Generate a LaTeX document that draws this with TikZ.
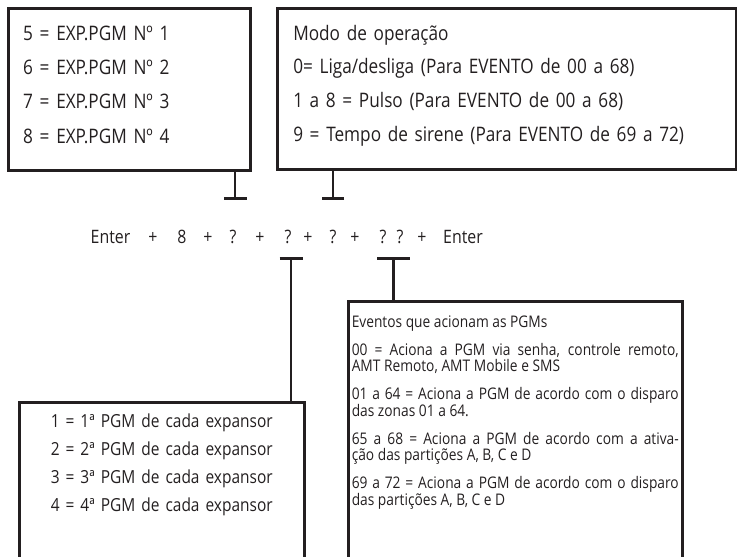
\documentclass[tikz,border=0pt]{standalone}
\usepackage{fontspec}
\setmainfont{Open Sans}
\newfontfamily\condfont{Open Sans}[FakeStretch=0.86]
\usetikzlibrary{arrows.meta,calc}
\definecolor{ink}{RGB}{35,31,32}
\tikzset{
  box/.style={draw=ink, line width=2.5pt, rectangle, anchor=north west,
    inner ysep=0pt, text=ink},
  tee/.style={draw=ink, line width=2.1pt, -{Bar[width=#1, line width=2.8pt]}},
  tok/.style={anchor=base, inner sep=0pt, text=ink,
    font=\condfont\fontsize{18.5}{20}\selectfont}
}

\begin{document}
\begin{tikzpicture}[x=1pt,y=-1pt]
    \useasboundingbox (0,0) rectangle (737,557);

    % caixas de cima
    \node[box, text width=212pt, inner xsep=15pt, text height=32pt, text depth=130pt,
      align=left, font=\condfont\fontsize{20}{34.3}\selectfont] (exp) at (7,7)
      {5 = EXP.PGM Nº 1\\6 = EXP.PGM Nº 2\\7 = EXP.PGM Nº 3\\8 = EXP.PGM Nº 4};
    \node[box, text width=427pt, inner xsep=16pt, text height=32pt, text depth=129pt,
      align=left, font=\condfont\fontsize{20}{33.7}\selectfont] (modo) at (276,7)
      {Modo de operação\\0= Liga/desliga (Para EVENTO de 00 a 68)\\
       1 a 8 = Pulso (Para EVENTO de 00 a 68)\\
       9 = Tempo de sirene (Para EVENTO de 69 a 72)};

    % sequencia
    \foreach \nm/\x/\t in {en1/110.5/Enter, p1/153/+, oito/182/8, p2/208/+,
      qa/233/?, p3/260/+, qb/288/?, p4/308/+, qc/333/?, p5/355/+,
      qd/383/?, qe/400/?, p6/422/+, en2/463/Enter}
      \node[tok] (\nm) at (\x,243) {\t};
    \coordinate (topbar) at (0,200);
    \coordinate (botbar) at (0,257);
    \coordinate (qde) at ($(qd)!.5!(qe)$);

    % caixas de baixo
    \node[box, text width=265pt, inner xsep=10pt, text height=25pt, text depth=200pt,
      align=center, font=\condfont\fontsize{18}{28}\selectfont] (pgm) at (18,401)
      {1 = 1ª PGM de cada expansor\\2 = 2ª PGM de cada expansor\\
       3 = 3ª PGM de cada expansor\\4 = 4ª PGM de cada expansor};
    \node[box, text width=327pt, inner xsep=3.5pt, text height=26pt, text depth=260pt,
      align=justify, font=\condfont\fontsize{16}{16.5}\selectfont] (ev) at (347,300)
      {\setlength{\parskip}{11.5pt}Eventos que acionam as PGMs\par
       00 = Aciona a PGM via senha, controle remoto,\linebreak AMT Remoto, AMT Mobile e SMS\par
       01 a 64 = Aciona a PGM de acordo com o disparo\linebreak das zonas 01 a 64.\par
       65 a 68 = Aciona a PGM de acordo com a ativa-\linebreak ção das partições A, B, C e D\par
       69 a 72 = Aciona a PGM de acordo com o disparo\linebreak das partições A, B, C e D};

    % ligacoes
    \draw[tee=23pt] ([xshift=2pt]qa |- exp.south) -- ([xshift=2pt]qa |- topbar);
    \draw[tee=22pt] (qc |- modo.south) -- (qc |- topbar);
    \draw[tee=23pt] ([xshift=3pt]qb |- pgm.north) -- ([xshift=3pt]qb |- botbar);
    \draw[tee=33pt] ([xshift=2pt]qde |- ev.north) -- ([xshift=2pt]qde |- botbar);
\end{tikzpicture}
\end{document}
